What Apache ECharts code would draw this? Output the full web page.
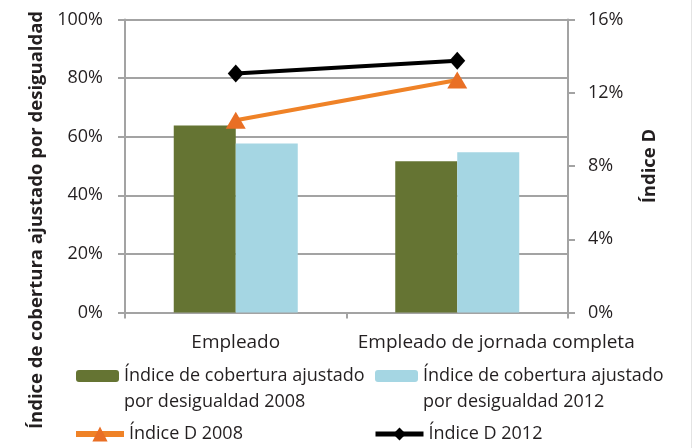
<!DOCTYPE html>
<html>
<head>
<meta charset="utf-8">
<script src="https://cdn.jsdelivr.net/npm/echarts@6/dist/echarts.min.js"></script>
<style>
  html, body { margin: 0; padding: 0; background: #fff; }
  #chart { width: 694px; height: 448px; }
</style>
</head>
<body>
<div id="chart"></div>
<script>
// categories and values
const categories = ['Empleado', 'Empleado de jornada completa'];
const cobertura2008 = [63.8, 51.6];   // left axis, %
const cobertura2012 = [57.7, 54.7];
const indiceD2008 = [10.5, 12.7];     // right axis, %
const indiceD2012 = [13.05, 13.75];
const leftTicks = { min: 0, max: 100, interval: 20 };
const rightTicks = { min: 0, max: 16, interval: 4 };

const FONT = '"Open Sans", "DejaVu Sans", sans-serif';
const TXT = '#231f20';
const GRAY = '#a3a3a3';

const names = [
    'Índice de cobertura ajustado por desigualdad 2008',
    'Índice de cobertura ajustado por desigualdad 2012',
    'Índice D 2008',
    'Índice D 2012'
];

const chart = echarts.init(document.getElementById('chart'));

const legendText = { fontFamily: FONT, fontSize: 18, color: TXT, lineHeight: 26 };
// blank first line so the swatch lines up with the first text line
const wrap = n => ' \n' + n.replace(' por ', '\npor ');

// the long label sits a little right of its category in the original
const xData = categories.map((c, i) => i === 1 ? { value: c, textStyle: { padding: [0, 0, 0, 78] } } : c);

const option = {
    animation: false,
    grid: { left: 125, right: 126, top: 19.5, bottom: 135.5 },
    legend: [
        { data: [names[0]], left: 76, top: 337, padding: 0, itemWidth: 43, itemHeight: 12,
          formatter: wrap, textStyle: legendText, selectedMode: false },
        { data: [names[1]], left: 375, top: 337, padding: 0, itemWidth: 43, itemHeight: 12,
          formatter: wrap, textStyle: legendText, selectedMode: false },
        { data: [names[2]], left: 73, top: 421, padding: 0, itemWidth: 48, itemHeight: 19,
          lineStyle: { width: 6 }, textStyle: legendText, selectedMode: false },
        { data: [names[3]], left: 373, top: 421, padding: 0, itemWidth: 48, itemHeight: 16,
          lineStyle: { width: 5 }, textStyle: legendText, selectedMode: false }
    ],
    graphic: [
        {
            type: 'text', x: 37, y: 220, rotation: Math.PI / 2,
            style: {
                text: 'Índice de cobertura ajustado por desigualdad',
                fontFamily: FONT, fontSize: 18.5, fontWeight: 'bold', fill: TXT,
                align: 'center', verticalAlign: 'middle'
            }
        },
        { type: 'rect', shape: { x: 691, y: 0, width: 1, height: 448 }, style: { fill: '#e4e4e4' } }
    ],
    xAxis: {
        type: 'category',
        data: xData,
        axisLine: { lineStyle: { color: GRAY, width: 2 } },
        axisTick: { show: true, length: 6, lineStyle: { color: GRAY, width: 2 } },
        axisLabel: { fontFamily: FONT, fontSize: 19, color: TXT, margin: 21, interval: 0 }
    },
    yAxis: [
        {
            type: 'value', ...leftTicks,
            axisLine: { show: true, lineStyle: { color: GRAY, width: 2 } },
            axisTick: { show: true, length: 7, lineStyle: { color: GRAY, width: 2 } },
            splitLine: { show: true, lineStyle: { color: GRAY, width: 2 } },
            axisLabel: { fontFamily: FONT, fontSize: 18, color: TXT, margin: 22, formatter: '{value}%' }
        },
        {
            type: 'value', ...rightTicks,
            name: 'Índice D', nameLocation: 'middle', nameRotate: 90, nameGap: 72,
            nameTextStyle: { fontFamily: FONT, fontSize: 18.5, fontWeight: 'bold', color: TXT },
            axisLine: { show: true, lineStyle: { color: GRAY, width: 2 } },
            axisTick: { show: true, length: 7, lineStyle: { color: GRAY, width: 2 } },
            splitLine: { show: false },
            axisLabel: { fontFamily: FONT, fontSize: 18, color: TXT, margin: 20, formatter: '{value}%' }
        }
    ],
    series: [
        {
            name: names[0], type: 'bar', data: cobertura2008,
            barWidth: 62, barGap: '0%', itemStyle: { color: '#657433' }
        },
        {
            name: names[1], type: 'bar', data: cobertura2012,
            barWidth: 62, itemStyle: { color: '#a5d6e3' }
        },
        {
            name: names[2], type: 'line', yAxisIndex: 1, data: indiceD2008,
            symbol: 'triangle', symbolSize: [20, 17],
            lineStyle: { color: '#ef8227', width: 4 }, itemStyle: { color: '#e96f25' }
        },
        {
            name: names[3], type: 'line', yAxisIndex: 1, data: indiceD2012,
            symbol: 'diamond', symbolSize: [16, 18],
            lineStyle: { color: '#000', width: 4 }, itemStyle: { color: '#000' }
        }
    ]
};

chart.setOption(option);
</script>
</body>
</html>
